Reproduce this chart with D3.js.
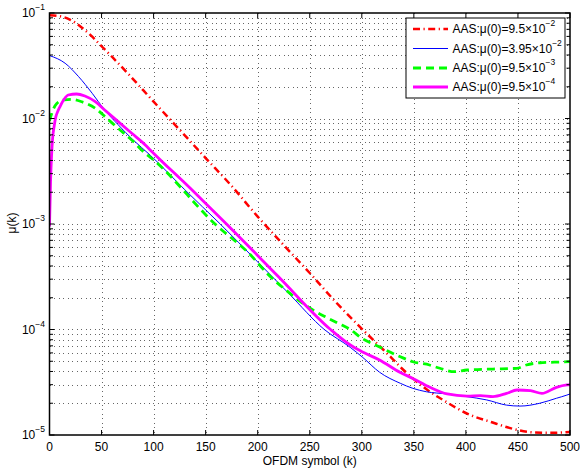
<!DOCTYPE html>
<html>
<head>
<meta charset="utf-8">
<script src="https://cdn.jsdelivr.net/npm/d3@7"></script>
<style>
  html, body { margin: 0; padding: 0; background: #fff; }
  svg { display: block; font-family: "Liberation Sans", Arial, Helvetica, sans-serif; }
</style>
</head>
<body>
<svg id="chart" width="580" height="470"></svg>
<script>
// OFDM symbol index k and adaptation step size mu(k) for each initial value
const kRed = [0, 10, 20, 30, 40, 50, 60, 75, 100, 125, 150, 175, 200, 225, 250, 275, 303, 316, 329, 340, 351, 364, 380, 404, 425, 439, 464, 485, 500];
const muRed = [0.095, 0.0933, 0.0861, 0.0741, 0.0610, 0.0484, 0.0385, 0.0269, 0.01445, 0.00782, 0.00422, 0.00229, 0.001175, 6.31e-4, 3.43e-4, 1.82e-4, 9.5e-5, 7.13e-5, 5.33e-5, 4.13e-5, 3.31e-5, 2.63e-5, 2.09e-5, 1.55e-5, 1.32e-5, 1.19e-5, 1.06e-5, 1.05e-5, 1.07e-5];

const kBlue = [0, 15, 28, 41, 53, 66, 80, 97, 130, 164, 200, 230, 264, 289, 301, 317, 337, 349, 362, 382, 401, 420, 439, 452, 471, 487, 497, 500];
const muBlue = [0.0395, 0.0334, 0.0249, 0.01734, 0.01204, 0.00871, 0.00631, 0.00447, 0.00211, 0.001, 4.37e-4, 2.19e-4, 1.0e-4, 6.76e-5, 5.43e-5, 3.94e-5, 3.09e-5, 2.77e-5, 2.57e-5, 2.45e-5, 2.31e-5, 2.15e-5, 1.92e-5, 1.88e-5, 2.0e-5, 2.23e-5, 2.39e-5, 2.45e-5];

const kGreen = [0, 3, 7, 14, 21, 31, 44, 55, 66, 79, 92, 98, 159, 193, 209, 231, 241, 253, 265, 277, 289, 300, 313, 337, 349, 365, 375, 389, 401, 426, 449, 458, 471, 485, 500];
const muGreen = [0.0095, 0.0118, 0.0139, 0.0150, 0.0152, 0.0144, 0.0125, 0.01005, 0.00807, 0.00625, 0.00468, 0.0042, 0.001, 5.1e-4, 3.41e-4, 2.2e-4, 1.84e-4, 1.53e-4, 1.32e-4, 1.15e-4, 1.0e-4, 8.26e-5, 7.13e-5, 5.52e-5, 4.95e-5, 4.61e-5, 4.29e-5, 3.98e-5, 4.13e-5, 4.22e-5, 4.29e-5, 4.61e-5, 4.84e-5, 4.9e-5, 4.95e-5];

const kMag = [0, 1, 2, 3, 4.5, 6, 8, 10, 14, 18, 26, 34, 44, 53, 66, 79, 92, 97, 135, 170, 220, 270, 289, 299, 317, 337, 349, 365, 382, 401, 414, 426, 439, 449, 462, 473, 487, 497, 500];
const muMag = [9.5e-4, 0.0025, 0.0045, 0.0065, 0.0085, 0.0103, 0.0117, 0.0129, 0.0152, 0.0167, 0.01707, 0.01633, 0.01442, 0.01204, 0.00933, 0.00724, 0.00562, 0.00501, 0.00219, 0.001, 3.16e-4, 1.0e-4, 7.13e-5, 6.25e-5, 5.14e-5, 3.91e-5, 3.44e-5, 2.85e-5, 2.45e-5, 2.34e-5, 2.36e-5, 2.31e-5, 2.48e-5, 2.67e-5, 2.63e-5, 2.48e-5, 2.83e-5, 2.98e-5, 3.0e-5];

// Axis ticks
const xTicks = [0, 50, 100, 150, 200, 250, 300, 350, 400, 450, 500];
const yExponents = [-5, -4, -3, -2, -1];

// Legend entries: mantissa and exponent of mu(0)
const legendMantissa = ["9.5", "3.95", "9.5", "9.5"];
const legendExponent = ["\u22122", "\u22122", "\u22123", "\u22124"];

const series = [
  { k: kRed,   mu: muRed,   color: "#ff0000", width: 2.5, dash: "7,3.5,1.2,3.5" },
  { k: kBlue,  mu: muBlue,  color: "#0000ff", width: 1,   dash: null },
  { k: kGreen, mu: muGreen, color: "#00ff00", width: 2.8, dash: "8,5" },
  { k: kMag,   mu: muMag,   color: "#ff00ff", width: 2.8, dash: null }
];

const svg = d3.select("#chart");
const L = 49.5, R = 570, T = 13, B = 435;

const x = d3.scaleLinear().domain([0, 500]).range([L, R]);
const y = d3.scaleLog().domain([1e-5, 1e-1]).range([B, T]);

// Grid lines (dotted)
const grid = svg.append("g").attr("class", "grid")
  .attr("stroke", "#666").attr("stroke-width", 1).attr("stroke-dasharray", "1,3.5")
  .attr("shape-rendering", "crispEdges");

xTicks.filter(v => v > 0 && v < 500).forEach(v => {
  grid.append("line")
    .attr("x1", Math.round(x(v)) + 0.5).attr("x2", Math.round(x(v)) + 0.5)
    .attr("y1", T).attr("y2", B);
});

const minorVals = [];
yExponents.slice(0, -1).forEach(e => {
  for (let m = 2; m <= 9; m++) minorVals.push(m * Math.pow(10, e));
});
const majorVals = yExponents.map(e => Math.pow(10, e));

minorVals.concat(majorVals.filter(v => v > 1e-5 && v < 1e-1)).forEach(v => {
  grid.append("line")
    .attr("x1", L).attr("x2", R)
    .attr("y1", Math.round(y(v)) + 0.5).attr("y2", Math.round(y(v)) + 0.5);
});

// Data lines
const plot = svg.append("g");
svg.append("clipPath").attr("id", "clip")
  .append("rect").attr("x", L).attr("y", T).attr("width", R - L).attr("height", B - T);

const line = d3.line()
  .x(d => x(d[0]))
  .y(d => y(d[1]))
  .curve(d3.curveMonotoneX);

series.forEach(s => {
  const pts = s.k.map((k, i) => [k, s.mu[i]]);
  plot.append("path")
    .attr("d", line(pts))
    .attr("clip-path", "url(#clip)")
    .attr("fill", "none")
    .attr("stroke", s.color)
    .attr("stroke-width", s.width)
    .attr("stroke-dasharray", s.dash)
    .attr("stroke-linejoin", "round");
});

// Axes box and ticks
const axes = svg.append("g").attr("stroke", "#000");
axes.append("rect")
  .attr("x", L).attr("y", T).attr("width", R - L).attr("height", B - T)
  .attr("fill", "none").attr("stroke-width", 1.5);

xTicks.forEach(v => {
  const px = x(v);
  axes.append("line").attr("x1", px).attr("x2", px).attr("y1", B).attr("y2", B - 5);
  axes.append("line").attr("x1", px).attr("x2", px).attr("y1", T).attr("y2", T + 5);
});
majorVals.forEach(v => {
  const py = y(v);
  axes.append("line").attr("x1", L).attr("x2", L + 5).attr("y1", py).attr("y2", py);
  axes.append("line").attr("x1", R).attr("x2", R - 5).attr("y1", py).attr("y2", py);
});
minorVals.forEach(v => {
  const py = y(v);
  axes.append("line").attr("x1", L).attr("x2", L + 3.5).attr("y1", py).attr("y2", py);
  axes.append("line").attr("x1", R).attr("x2", R - 3.5).attr("y1", py).attr("y2", py);
});

// Tick labels
const labels = svg.append("g").attr("fill", "#000").attr("font-size", 12);
xTicks.forEach(v => {
  labels.append("text")
    .attr("x", x(v)).attr("y", 450.5)
    .attr("text-anchor", "middle")
    .text(v);
});
yExponents.forEach(e => {
  const t = labels.append("text")
    .attr("x", 45).attr("y", y(Math.pow(10, e)) + 4.3)
    .attr("text-anchor", "end");
  t.append("tspan").text("10");
  t.append("tspan").attr("dy", -7).attr("font-size", 8.5).text("\u2212" + Math.abs(e));
});

// Axis titles
labels.append("text")
  .attr("x", (L + R) / 2).attr("y", 465)
  .attr("text-anchor", "middle")
  .text("OFDM symbol (k)");
labels.append("text")
  .attr("transform", "translate(16,223) rotate(-90)")
  .attr("text-anchor", "middle")
  .text("\u03bc(k)");

// Legend
const lg = svg.append("g");
lg.append("rect")
  .attr("x", 406).attr("y", 18).attr("width", 159).attr("height", 80)
  .attr("fill", "#fff").attr("stroke", "#000").attr("stroke-width", 1);
const rowY = [29, 48.5, 68, 87];
series.forEach((s, i) => {
  lg.append("line")
    .attr("x1", 413).attr("x2", 448)
    .attr("y1", rowY[i]).attr("y2", rowY[i])
    .attr("stroke", s.color)
    .attr("stroke-width", s.width)
    .attr("stroke-dasharray", s.dash);
  const t = lg.append("text")
    .attr("x", 452.5).attr("y", rowY[i] + 4.3)
    .attr("font-size", 12).attr("fill", "#000");
  t.append("tspan").text("AAS:\u03bc(0)=" + legendMantissa[i] + "\u00d710");
  t.append("tspan").attr("dy", -7).attr("font-size", 8.5).text(legendExponent[i]);
});
</script>
</body>
</html>
